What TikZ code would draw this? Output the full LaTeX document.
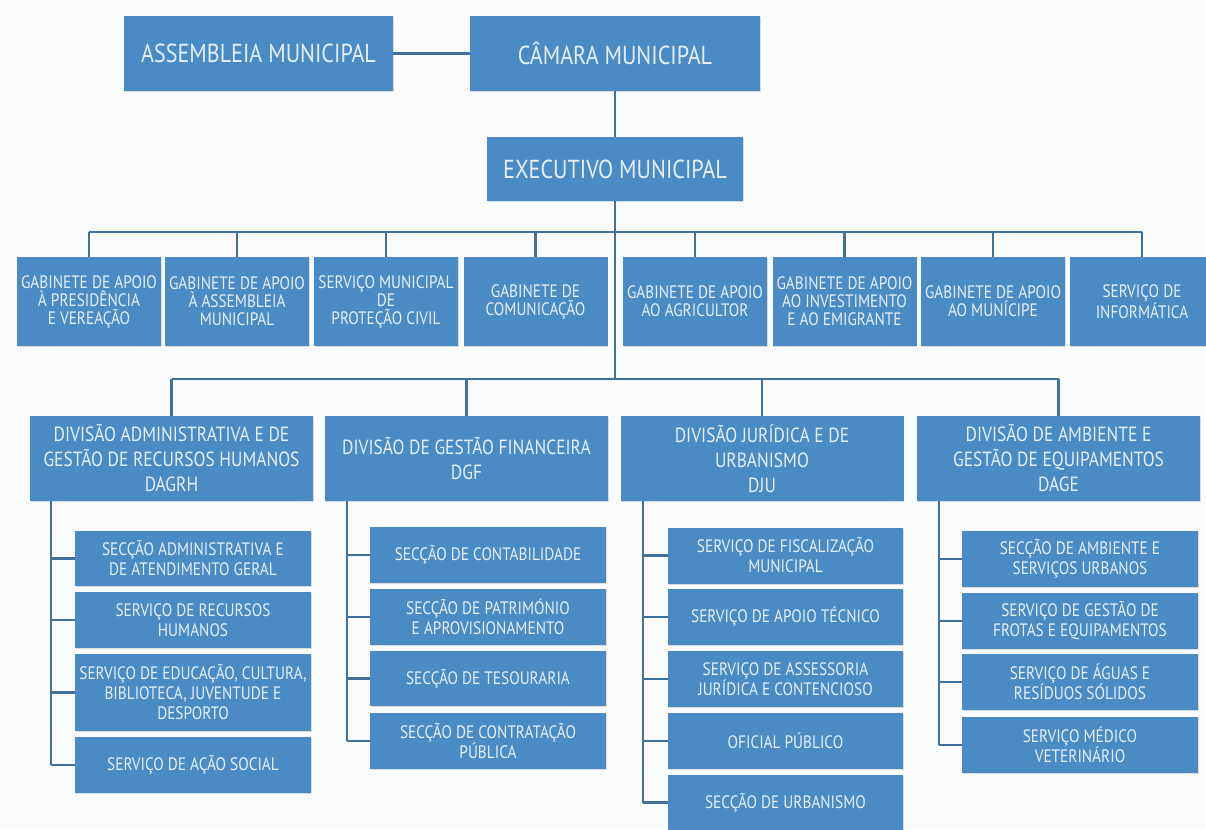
\documentclass[tikz,border=0pt]{standalone}
\usepackage{fontspec}
\setmainfont{PT Sans}[FakeStretch=0.85]
\usetikzlibrary{shadows}
\definecolor{caixa}{HTML}{4A8AC5}
\definecolor{letra}{HTML}{E6F0F9}
\definecolor{linha}{HTML}{41709A}
\definecolor{fundo}{HTML}{F9FBFC}
\tikzset{
  caixa/.style={fill=caixa,text=letra,align=center,inner sep=0pt,
    drop shadow={shadow xshift=0.8pt,shadow yshift=-1.2pt,opacity=0.25}},
  topbox/.style={caixa,minimum height=75pt,font=\fontsize{26}{30}\selectfont},
  gabbox/.style={caixa,minimum width=144pt,minimum height=89pt,font=\fontsize{18}{18}\selectfont},
  divbox/.style={caixa,minimum width=283pt,minimum height=85pt,font=\fontsize{20.5}{25}\selectfont},
  subbox/.style={caixa,minimum width=236pt,minimum height=56pt,font=\fontsize{18}{20}\selectfont},
  liga/.style={draw=linha,line width=2.2pt}
}
\begin{document}
\begin{tikzpicture}[x=1pt,y=-1pt]
	\fill[fundo] (0,0) rectangle (1206,829);
	\useasboundingbox (0,0) rectangle (1206,829);
	% topo
	\node[topbox,minimum width=269pt] (asm) at (258.5,53.5) {ASSEMBLEIA MUNICIPAL};
	\node[topbox,minimum width=290pt] (cam) at (615,53.5) {CÂMARA MUNICIPAL};
	\node[topbox,minimum width=256pt,minimum height=64pt] (exe) at (615,169) {EXECUTIVO MUNICIPAL};
	\coordinate (bar1) at (615,232);
	\coordinate (bar2) at (615,379);
	% gabinetes
	\node[gabbox] (g1) at (89,301.5) {GABINETE DE APOIO\\À PRESIDÊNCIA\\E VEREAÇÃO};
	\node[gabbox] (g2) at (237,301.5) {GABINETE DE APOIO\\À ASSEMBLEIA\\MUNICIPAL};
	\node[gabbox] (g3) at (386,301.5) {SERVIÇO MUNICIPAL\\DE\\PROTEÇÃO CIVIL};
	\node[gabbox] (g4) at (535.5,301.5) {GABINETE DE\\COMUNICAÇÃO};
	\node[gabbox] (g5) at (695,301.5) {GABINETE DE APOIO\\AO AGRICULTOR};
	\node[gabbox] (g6) at (844.5,301.5) {GABINETE DE APOIO\\AO INVESTIMENTO\\E AO EMIGRANTE};
	\node[gabbox] (g7) at (993,301.5) {GABINETE DE APOIO\\AO MUNÍCIPE};
	\node[gabbox] (g8) at (1142,301.5) {SERVIÇO DE\\INFORMÁTICA};
	% divisoes
	\node[divbox] (dagrh) at (171.5,458.5) {DIVISÃO ADMINISTRATIVA E DE\\GESTÃO DE RECURSOS HUMANOS\\DAGRH};
	\node[divbox] (dgf) at (466.5,458.5) {DIVISÃO DE GESTÃO FINANCEIRA\\DGF};
	\node[divbox] (dju) at (762,458.5) {DIVISÃO JURÍDICA E DE\\URBANISMO\\DJU};
	\node[divbox] (dage) at (1058.5,458.5) {DIVISÃO DE AMBIENTE E\\GESTÃO DE EQUIPAMENTOS\\DAGE};
	% seccoes e servicos
	\node[subbox,minimum height=55pt] (a1) at (193,558.5) {SECÇÃO ADMINISTRATIVA E\\DE ATENDIMENTO GERAL};
	\node[subbox] (a2) at (193,620) {SERVIÇO DE RECURSOS\\HUMANOS};
	\node[subbox,minimum height=77pt] (a3) at (193,692.5) {SERVIÇO DE EDUCAÇÃO, CULTURA,\\BIBLIOTECA, JUVENTUDE E\\DESPORTO};
	\node[subbox] (a4) at (193,765) {SERVIÇO DE AÇÃO SOCIAL};
	\node[subbox] (f1) at (488,555) {SECÇÃO DE CONTABILIDADE};
	\node[subbox] (f2) at (488,617) {SECÇÃO DE PATRIMÓNIO\\E APROVISIONAMENTO};
	\node[subbox,minimum height=55pt] (f3) at (488,678.5) {SECÇÃO DE TESOURARIA};
	\node[subbox] (f4) at (488,741) {SECÇÃO DE CONTRATAÇÃO\\PÚBLICA};
	\node[subbox,minimum width=235pt] (j1) at (785.5,555.5) {SERVIÇO DE FISCALIZAÇÃO\\MUNICIPAL};
	\node[subbox,minimum width=235pt] (j2) at (785.5,617) {SERVIÇO DE APOIO TÉCNICO};
	\node[subbox,minimum width=235pt] (j3) at (785.5,679) {SERVIÇO DE ASSESSORIA\\JURÍDICA E CONTENCIOSO};
	\node[subbox,minimum width=235pt] (j4) at (785.5,741) {OFICIAL PÚBLICO};
	\node[subbox,minimum width=235pt] (j5) at (785.5,802.5) {SECÇÃO DE URBANISMO};
	\node[subbox] (e1) at (1080,559) {SECÇÃO DE AMBIENTE E\\SERVIÇOS URBANOS};
	\node[subbox] (e2) at (1080,621) {SERVIÇO DE GESTÃO DE\\FROTAS E EQUIPAMENTOS};
	\node[subbox] (e3) at (1080,682) {SERVIÇO DE ÁGUAS E\\RESÍDUOS SÓLIDOS};
	\node[subbox] (e4) at (1080,745) {SERVIÇO MÉDICO\\VETERINÁRIO};
	% ligacoes
	\draw[liga] (asm.east) -- (cam.west);
	\draw[liga] (cam.south) -- (exe.north);
	\draw[liga] (exe.south) -- (bar2);
	\draw[liga] (g1.north |- bar1) -- (g8.north |- bar1);
	\foreach \i in {1,...,8} \draw[liga] (g\i.north) -- (g\i.north |- bar1);
	\draw[liga] (dagrh.north |- bar2) -- (dage.north |- bar2);
	\foreach \d in {dagrh,dgf,dju,dage} \draw[liga] (\d.north) -- (\d.north |- bar2);
	\draw[liga] ([xshift=-24pt]a4.west) -- ([xshift=-24pt]a4.west |- dagrh.south);
	\draw[liga] ([xshift=-23pt]f4.west) -- ([xshift=-23pt]f4.west |- dgf.south);
	\draw[liga] ([xshift=-25pt]j5.west) -- ([xshift=-25pt]j5.west |- dju.south);
	\draw[liga] ([xshift=-23pt]e4.west) -- ([xshift=-23pt]e4.west |- dage.south);
	\foreach \s in {a1,a2,a3,a4} \draw[liga] (\s.west) -- ++(-24,0);
	\foreach \s in {f1,f2,f3,f4,e1,e2,e3,e4} \draw[liga] (\s.west) -- ++(-23,0);
	\foreach \s in {j1,j2,j3,j4,j5} \draw[liga] (\s.west) -- ++(-25,0);
\end{tikzpicture}
\end{document}
